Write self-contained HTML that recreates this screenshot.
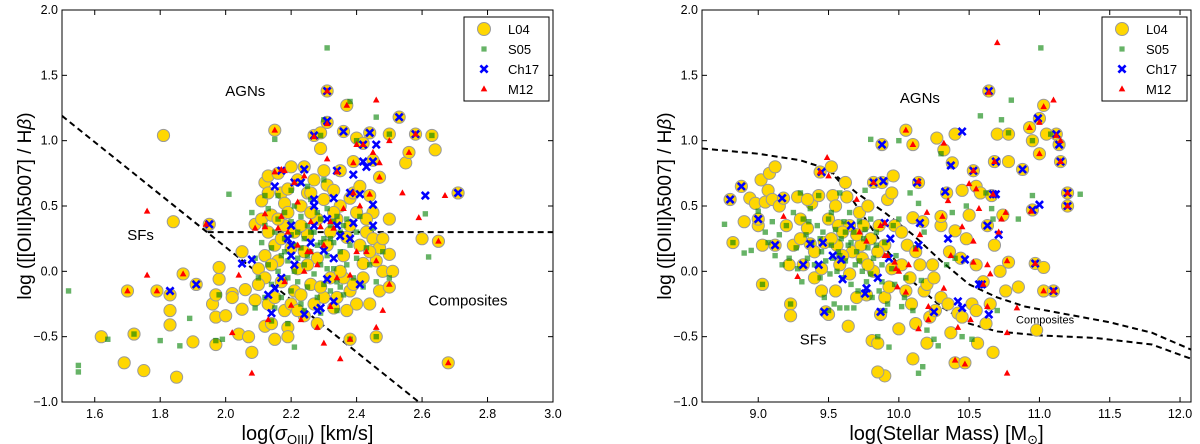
<!DOCTYPE html>
<html><head><meta charset="utf-8">
<style>
body{margin:0;background:#fff;}
svg{display:block;font-family:"Liberation Sans","DejaVu Sans",sans-serif;}
</style></head>
<body>
<svg id="chart" width="1200" height="444" viewBox="0 0 1200 444"></svg>
<script>
// ---- Left panel data: x = log(sigma_OIII), y = log([OIII]/Hb)
const leftL04 = [[1.81,1.04],[1.84,0.38],[1.62,-0.50],[1.69,-0.70],[1.75,-0.76],[1.85,-0.81],[1.72,-0.48],[1.70,-0.15],[1.79,-0.15],[1.83,-0.18],[1.83,-0.30],[1.83,-0.41],[1.87,-0.02],[1.90,-0.54],[1.91,-0.10],[1.95,0.36],[1.97,-0.56],[1.97,-0.35],[1.98,-0.06],[1.98,0.03],[1.96,-0.25],[1.97,-0.18],[2.00,-0.34],[2.02,-0.17],[2.02,-0.20],[2.04,-0.48],[2.05,0.15],[2.05,-0.29],[2.06,-0.14],[2.07,-0.50],[2.08,-0.62],[2.09,0.36],[2.10,0.02],[2.09,-0.22],[2.11,0.54],[2.11,0.40],[2.12,0.68],[2.12,0.12],[2.12,-0.05],[2.12,-0.42],[2.13,0.73],[2.13,0.60],[2.13,0.30],[2.14,0.43],[2.13,-0.25],[2.14,-0.40],[2.15,-0.52],[2.15,1.08],[2.15,0.20],[2.16,0.75],[2.16,0.08],[2.17,-0.08],[2.17,0.60],[2.18,0.52],[2.18,0.35],[2.18,-0.30],[2.19,0.63],[2.19,-0.43],[2.19,-0.50],[2.20,0.80],[2.20,0.18],[2.21,-0.15],[2.22,0.70],[2.22,0.02],[2.23,0.50],[2.23,-0.18],[2.24,0.80],[2.24,-0.34],[2.25,0.60],[2.25,0.28],[2.26,-0.10],[2.27,1.04],[2.28,0.40],[2.28,-0.40],[2.29,0.94],[2.29,1.06],[2.30,0.77],[2.30,-0.20],[2.31,1.38],[2.31,1.14],[2.31,0.66],[2.32,0.30],[2.32,-0.05],[2.33,0.62],[2.33,-0.28],[2.34,0.40],[2.34,-0.20],[2.35,0.77],[2.36,1.07],[2.36,0.12],[2.37,1.27],[2.37,0.26],[2.38,-0.52],[2.38,0.56],[2.38,-0.15],[2.39,0.84],[2.39,0.60],[2.39,-0.10],[2.40,1.02],[2.40,0.45],[2.40,-0.25],[2.41,0.20],[2.42,0.98],[2.42,0.06],[2.43,0.30],[2.44,0.58],[2.44,1.06],[2.44,-0.25],[2.45,0.85],[2.45,0.45],[2.45,0.25],[2.46,0.08],[2.46,-0.50],[2.47,0.72],[2.47,0.18],[2.47,-0.15],[2.48,0.00],[2.50,1.05],[2.50,0.40],[2.50,0.13],[2.50,-0.12],[2.51,0.00],[2.53,1.18],[2.55,0.83],[2.56,0.91],[2.58,1.05],[2.60,0.25],[2.63,1.04],[2.64,0.93],[2.65,0.23],[2.68,-0.70],[2.71,0.60],[2.24,0.15],[2.26,0.45],[2.21,0.30],[2.15,-0.20],[2.28,0.10],[2.36,-0.05],[2.42,-0.05],[2.20,-0.25],[2.10,-0.10],[2.27,0.70],[2.35,0.50],[2.14,0.05],[2.17,0.25],[2.19,0.45],[2.23,0.35],[2.25,0.05],[2.27,-0.25],[2.30,0.55],[2.31,0.20],[2.33,0.45],[2.35,0.00],[2.37,-0.30],[2.41,0.65],[2.43,0.40],[2.44,0.15],[2.48,0.25],[2.22,-0.30],[2.26,0.60],[2.16,0.40],[2.38,0.35],[2.29,-0.12]];
const leftS05 = [[1.52,-0.15],[1.55,-0.72],[1.55,-0.77],[1.64,-0.52],[1.72,-0.48],[1.80,-0.53],[1.86,-0.57],[1.89,-0.36],[1.97,-0.53],[1.99,-0.52],[1.98,-0.18],[2.01,0.59],[2.31,1.71],[2.15,1.01],[2.38,1.30],[2.46,1.18],[2.30,1.16],[2.61,0.44],[2.62,0.11],[2.21,-0.58],[2.63,1.04],[2.50,1.05],[2.46,-0.50],[2.38,-0.52],[2.29,1.04],[2.40,1.00],[2.08,0.45],[2.09,0.10],[2.10,-0.05],[2.11,0.22],[2.12,0.35],[2.12,-0.20],[2.13,0.05],[2.13,0.48],[2.14,-0.10],[2.14,0.18],[2.15,0.30],[2.15,-0.28],[2.16,0.40],[2.16,0.00],[2.17,0.12],[2.17,-0.20],[2.18,0.25],[2.18,0.45],[2.19,-0.05],[2.19,0.08],[2.20,0.38],[2.20,-0.15],[2.21,0.20],[2.21,0.50],[2.22,-0.08],[2.22,0.30],[2.22,0.10],[2.23,0.42],[2.23,-0.25],[2.24,0.05],[2.24,0.25],[2.25,0.35],[2.25,-0.12],[2.26,0.15],[2.26,0.55],[2.27,-0.02],[2.27,0.30],[2.28,0.20],[2.28,-0.20],[2.29,0.40],[2.29,0.05],[2.30,0.25],[2.30,-0.10],[2.31,0.48],[2.31,0.12],[2.32,-0.15],[2.32,0.35],[2.33,0.02],[2.33,0.22],[2.34,0.42],[2.34,-0.08],[2.35,0.15],[2.35,0.30],[2.36,-0.18],[2.37,0.05],[2.37,0.40],[2.38,0.20],[2.39,-0.05],[2.40,0.30],[2.40,0.10],[2.41,0.42],[2.42,-0.12],[2.43,0.18],[2.44,0.05],[2.45,0.33],[2.46,-0.08],[2.48,0.15],[2.50,-0.05],[2.16,0.58],[2.20,0.62],[2.25,0.65],[2.30,0.70],[2.14,-0.38],[2.19,-0.40],[2.24,-0.30],[2.29,-0.32],[2.34,-0.30],[2.09,-0.28],[2.12,0.58],[2.21,0.00],[2.23,0.18],[2.26,0.30],[2.28,0.45],[2.31,0.02],[2.32,0.25],[2.35,-0.12],[2.36,0.35],[2.18,0.15],[2.20,0.28],[2.25,0.12],[2.29,0.22],[2.33,0.38]];
const leftCh17 = [[1.83,-0.15],[1.91,-0.10],[1.95,0.36],[2.05,0.06],[2.08,0.09],[2.13,-0.18],[2.14,-0.32],[2.15,-0.13],[2.17,-0.05],[2.15,0.65],[2.17,0.77],[2.19,0.25],[2.20,0.35],[2.20,0.12],[2.20,0.20],[2.21,0.05],[2.21,0.68],[2.23,0.68],[2.24,0.78],[2.24,-0.33],[2.26,0.22],[2.27,0.55],[2.27,0.50],[2.27,0.35],[2.27,1.04],[2.28,-0.30],[2.29,-0.28],[2.30,0.16],[2.31,1.15],[2.31,0.40],[2.31,-0.06],[2.33,0.56],[2.33,0.10],[2.33,-0.23],[2.34,0.77],[2.35,0.27],[2.36,1.07],[2.38,0.25],[2.38,0.60],[2.39,0.74],[2.39,0.37],[2.41,0.59],[2.41,-0.10],[2.42,0.84],[2.42,0.97],[2.43,0.80],[2.44,1.06],[2.45,0.84],[2.45,0.35],[2.45,0.51],[2.46,0.97],[2.53,1.18],[2.58,1.05],[2.61,0.58],[2.71,0.60],[2.31,1.38],[2.34,0.35]];
const leftM12 = [[1.70,-0.15],[1.76,0.46],[1.76,-0.03],[1.79,-0.15],[1.87,-0.02],[1.94,0.36],[2.02,-0.47],[2.04,-0.03],[2.08,-0.78],[2.09,0.33],[2.12,0.44],[2.12,0.34],[2.13,-0.37],[2.15,1.08],[2.15,0.76],[2.16,0.33],[2.17,0.78],[2.17,0.42],[2.18,-0.08],[2.19,0.30],[2.20,-0.26],[2.21,0.68],[2.22,0.53],[2.22,0.20],[2.23,-0.37],[2.24,0.73],[2.24,0.00],[2.25,0.15],[2.26,0.38],[2.27,1.03],[2.28,-0.43],[2.28,0.05],[2.29,0.34],[2.30,0.20],[2.30,-0.55],[2.31,1.38],[2.31,1.13],[2.31,0.86],[2.32,0.38],[2.32,-0.27],[2.33,0.33],[2.34,0.76],[2.34,-0.05],[2.35,-0.67],[2.36,0.48],[2.37,1.27],[2.38,-0.52],[2.38,-0.03],[2.39,0.60],[2.39,0.83],[2.40,0.97],[2.40,0.15],[2.41,0.50],[2.42,0.97],[2.43,0.15],[2.44,0.59],[2.45,0.91],[2.46,1.31],[2.46,-0.43],[2.46,0.08],[2.47,0.72],[2.47,0.83],[2.48,-0.30],[2.50,1.00],[2.50,-0.10],[2.54,0.60],[2.56,0.91],[2.58,1.05],[2.59,0.41],[2.65,0.23],[2.67,0.58],[2.68,-0.70],[2.74,1.75],[2.18,0.77],[2.26,0.15]];
const leftXTicks = ["1.6","1.8","2.0","2.2","2.4","2.6","2.8","3.0"];
const yTicks = ["−1.0","−0.5","0.0","0.5","1.0","1.5","2.0"];
const yTickVals = [-1.0,-0.5,0.0,0.5,1.0,1.5,2.0];
const leftDiagLine = [[1.5,1.19],[2.59,-1.0]];
const leftHorizLine = [[1.945,0.3],[3.0,0.3]];

// ---- Right panel data: x = log(stellar mass)
const rightL04 = [[8.80,0.55],[8.82,0.22],[8.88,0.65],[8.90,0.38],[8.94,0.56],[8.98,0.52],[9.00,0.35],[9.00,0.40],[9.02,0.70],[9.03,-0.10],[9.03,0.20],[9.05,0.53],[9.07,0.62],[9.08,0.75],[9.10,0.55],[9.12,0.80],[9.12,0.20],[9.15,0.50],[9.18,0.56],[9.20,0.35],[9.22,0.05],[9.23,-0.25],[9.23,-0.34],[9.25,0.20],[9.28,0.57],[9.30,0.40],[9.32,0.05],[9.35,0.33],[9.37,0.21],[9.38,0.52],[9.40,-0.05],[9.43,0.58],[9.44,0.76],[9.45,-0.15],[9.47,0.22],[9.48,-0.31],[9.50,0.40],[9.50,-0.33],[9.52,0.80],[9.53,0.58],[9.55,-0.15],[9.56,0.20],[9.57,0.35],[9.58,0.05],[9.62,0.68],[9.63,0.57],[9.64,-0.42],[9.65,0.35],[9.67,0.15],[9.70,-0.20],[9.72,0.45],[9.74,0.10],[9.75,0.35],[9.77,-0.18],[9.78,0.50],[9.80,0.25],[9.81,-0.53],[9.82,0.68],[9.82,0.00],[9.85,-0.55],[9.86,0.35],[9.87,-0.33],[9.88,0.97],[9.88,0.68],[9.90,0.20],[9.90,-0.20],[9.92,0.55],[9.95,0.60],[9.96,0.73],[9.97,0.35],[10.00,-0.44],[9.90,-0.80],[10.02,0.05],[10.02,0.30],[10.05,1.08],[10.06,0.20],[10.09,-0.25],[10.10,0.41],[10.10,0.97],[10.12,-0.40],[10.14,0.68],[10.15,0.05],[10.17,0.38],[10.18,-0.15],[10.20,-0.55],[10.22,-0.35],[10.24,0.05],[10.27,1.02],[10.30,0.35],[10.30,0.42],[10.30,-0.20],[10.32,0.93],[10.34,0.60],[10.36,0.15],[10.37,-0.47],[10.38,0.83],[10.40,1.05],[10.40,0.31],[10.42,-0.32],[10.44,0.10],[10.45,0.62],[10.40,-0.70],[10.47,-0.70],[10.48,0.25],[10.50,0.43],[10.52,-0.25],[10.53,0.77],[10.55,0.05],[10.55,0.65],[10.56,-0.55],[10.58,0.60],[10.60,-0.08],[10.62,-0.40],[10.63,0.35],[10.64,1.38],[10.66,0.58],[10.67,-0.62],[10.68,0.20],[10.68,0.84],[10.70,1.05],[10.72,0.00],[10.74,0.43],[10.76,-0.15],[10.78,1.05],[10.78,0.84],[10.78,0.07],[10.85,-0.12],[10.88,0.78],[10.93,1.10],[10.95,1.00],[10.95,0.47],[10.97,0.06],[11.00,0.90],[11.00,1.17],[11.03,1.27],[11.03,-0.15],[11.05,1.05],[11.10,-0.15],[11.12,1.05],[11.14,0.97],[11.15,0.84],[11.20,0.60],[11.20,0.50],[11.03,0.03],[10.98,-0.45],[9.65,-0.02],[9.45,0.02],[9.60,0.30],[9.73,0.20],[10.20,-0.10],[10.08,-0.05],[10.26,-0.30],[9.93,-0.12],[9.55,0.50],[9.35,0.55],[9.85,-0.77],[10.10,-0.67],[9.60,0.12],[9.70,0.28],[9.78,0.05],[9.85,0.15],[9.95,0.02],[10.05,-0.15],[10.12,0.15],[10.25,-0.05],[10.35,-0.25],[10.45,-0.35],[10.55,-0.30],[10.65,-0.25],[9.40,0.15],[9.30,0.25],[9.52,0.25]];
const rightS05 = [[8.76,0.36],[8.82,0.22],[8.90,0.14],[8.95,0.16],[9.00,0.46],[9.03,-0.10],[9.05,0.30],[9.07,0.22],[9.10,0.38],[9.12,0.12],[9.15,0.28],[9.17,0.05],[9.20,0.35],[9.22,0.10],[9.23,-0.25],[9.25,0.45],[9.27,0.18],[9.28,0.02],[9.30,0.60],[9.31,-0.08],[9.32,0.40],[9.34,0.28],[9.35,0.10],[9.37,0.48],[9.38,0.22],[9.40,0.05],[9.42,0.35],[9.43,0.58],[9.44,-0.05],[9.45,0.15],[9.46,0.30],[9.47,-0.20],[9.48,0.08],[9.50,0.40],[9.51,-0.02],[9.52,0.20],[9.53,0.10],[9.54,-0.25],[9.55,0.32],[9.56,0.00],[9.57,0.15],[9.58,0.60],[9.59,0.25],[9.60,-0.05],[9.61,0.38],[9.62,0.08],[9.63,-0.28],[9.64,0.20],[9.65,0.45],[9.66,-0.10],[9.68,0.30],[9.69,0.05],[9.70,0.15],[9.71,-0.15],[9.72,0.38],[9.74,0.00],[9.75,0.25],[9.76,0.62],[9.77,-0.08],[9.78,0.18],[9.80,0.40],[9.80,1.01],[9.81,-0.20],[9.82,0.10],[9.84,0.30],[9.85,-0.50],[9.86,-0.15],[9.88,0.05],[9.90,0.22],[9.92,-0.25],[9.93,-0.58],[9.95,0.02],[9.97,-0.10],[9.98,0.12],[10.00,1.00],[10.02,-0.27],[10.05,-0.05],[10.08,0.60],[10.10,-0.30],[10.12,0.18],[10.14,0.52],[10.16,-0.07],[10.18,0.30],[10.20,-0.45],[10.17,-0.73],[10.14,-0.78],[10.25,-0.52],[10.28,-0.57],[10.30,0.90],[10.34,0.05],[10.38,0.45],[10.40,0.10],[10.45,-0.50],[10.48,0.50],[10.52,-0.52],[10.58,1.19],[10.62,0.60],[10.66,0.48],[10.67,0.40],[10.70,-0.30],[10.73,1.16],[10.78,1.06],[10.80,1.31],[10.85,0.40],[10.95,0.58],[10.95,1.00],[11.01,1.71],[11.08,1.05],[11.29,0.59],[9.50,-0.30],[9.58,-0.28],[9.68,-0.28],[10.00,0.40],[10.04,-0.20],[9.96,0.35],[9.90,-0.30],[9.36,0.38],[9.44,0.25],[9.52,0.45],[9.58,0.12],[9.62,0.30],[9.66,0.22],[9.72,0.08],[9.76,0.32],[9.80,-0.02],[9.84,0.20],[9.88,-0.08],[9.92,0.12]];
const rightCh17 = [[8.80,0.55],[8.88,0.65],[9.00,0.40],[9.12,0.20],[9.17,0.56],[9.32,0.05],[9.37,0.21],[9.43,0.05],[9.45,0.76],[9.46,0.22],[9.47,-0.31],[9.53,0.12],[9.59,0.09],[9.60,-0.06],[9.66,0.35],[9.77,-0.13],[9.76,-0.17],[9.82,0.68],[9.85,-0.05],[9.87,-0.31],[9.88,0.97],[9.89,0.69],[9.90,0.37],[9.94,0.25],[9.93,0.10],[10.13,0.68],[10.14,0.20],[10.15,0.37],[10.25,-0.31],[10.33,0.61],[10.35,0.25],[10.37,0.81],[10.42,-0.23],[10.45,-0.28],[10.45,1.07],[10.47,0.09],[10.53,0.77],[10.57,-0.10],[10.59,-0.10],[10.63,0.35],[10.64,-0.33],[10.64,1.38],[10.67,0.59],[10.69,0.59],[10.69,0.84],[10.71,0.28],[10.88,0.78],[10.95,0.47],[10.97,0.06],[10.99,1.17],[11.00,0.51],[11.10,-0.15],[11.12,1.05],[11.14,0.97],[11.15,0.84],[11.20,0.60],[11.20,0.50]];
const rightM12 = [[9.18,0.42],[9.28,-0.04],[9.44,0.76],[9.49,0.87],[9.50,0.73],[9.70,0.55],[9.72,0.30],[9.77,0.23],[9.82,0.68],[9.87,0.35],[9.90,0.37],[9.90,0.12],[9.92,0.12],[9.97,0.07],[9.98,0.02],[9.99,-0.12],[10.00,0.00],[10.05,1.08],[10.10,0.97],[10.12,0.17],[10.14,0.69],[10.14,-0.44],[10.15,0.28],[10.20,0.45],[10.21,-0.27],[10.21,-0.37],[10.31,0.42],[10.32,0.98],[10.32,-0.13],[10.35,0.54],[10.37,0.12],[10.40,-0.68],[10.42,-0.43],[10.45,0.34],[10.47,-0.71],[10.50,0.67],[10.51,-0.37],[10.53,0.07],[10.53,0.23],[10.53,0.77],[10.55,0.63],[10.57,0.48],[10.60,-0.10],[10.63,0.05],[10.63,-0.27],[10.64,1.37],[10.65,-0.02],[10.67,0.59],[10.68,0.84],[10.70,1.75],[10.71,0.30],[10.73,0.40],[10.76,0.45],[10.77,-0.78],[10.77,0.08],[10.77,-0.47],[10.84,-0.28],[10.93,1.10],[10.94,0.46],[10.97,0.06],[11.00,0.90],[11.00,1.14],[11.03,1.26],[11.03,-0.15],[11.10,-0.15],[11.10,1.31],[11.12,1.04],[11.15,1.00],[11.15,0.84],[11.20,0.60],[11.20,0.50],[10.07,0.05],[10.05,-0.16]];
const rightXTicks = ["9.0","9.5","10.0","10.5","11.0","11.5","12.0"];
const rightUpperCurve = [[8.6,0.94],[9.0,0.90],[9.3,0.85],[9.5,0.78],[9.7,0.60],[9.9,0.45],[10.1,0.28],[10.3,0.08],[10.5,-0.10],[10.7,-0.20],[10.9,-0.27],[11.2,-0.33],[11.5,-0.39],[11.8,-0.47],[12.08,-0.60]];
const rightLowerCurve = [[9.5,0.78],[9.6,0.66],[9.75,0.42],[9.9,0.18],[10.1,-0.08],[10.3,-0.27],[10.5,-0.40],[10.7,-0.46],[11.0,-0.49],[11.4,-0.51],[11.8,-0.56],[12.08,-0.67]];

const NS = "http://www.w3.org/2000/svg";
const svg = document.getElementById("chart");
function mk(tag, attrs, parent){ const e=document.createElementNS(NS,tag); for(const k in attrs) e.setAttribute(k,attrs[k]); (parent||svg).appendChild(e); return e; }

function panel(cfg){
  const g = mk("g",{});
  
  
  const X = v => cfg.x0 + (v - cfg.xmin) / (cfg.xmax - cfg.xmin) * (cfg.x1 - cfg.x0);
  const Y = v => 402 - (v + 1) / 3 * (402 - 10);
  const clip = cfg.name + "-clip";
  const cp = mk("clipPath",{id:clip},g); mk("rect",{x:cfg.x0,y:10,width:cfg.x1-cfg.x0,height:392},cp);
  const plot = mk("g",{"clip-path":"url(#"+clip+")"},g);
  cfg.lines.forEach((ln,i)=>{
    const p = mk("polyline",{points:ln.map(d=>X(d[0])+","+Y(d[1])).join(" "),fill:"none",stroke:"#000","stroke-width":2,"stroke-dasharray":"6,4"},plot);
    
    
  });
  cfg.L04.forEach(d=>{ const c=mk("circle",{cx:X(d[0]),cy:Y(d[1]),r:6.1,fill:"#FFD700",stroke:"#9a9a9a","stroke-width":1},plot);
    
     });
  cfg.S05.forEach(d=>{ const s=mk("rect",{x:X(d[0])-2.7,y:Y(d[1])-2.7,width:5.4,height:5.4,fill:"#008000","fill-opacity":0.6},plot);
    
     });
  cfg.Ch17.forEach(d=>{ const x=X(d[0]),y=Y(d[1]),r=3.6;
    const p=mk("path",{d:`M${x-r},${y-r}L${x+r},${y+r}M${x-r},${y+r}L${x+r},${y-r}`,stroke:"#0000ff","stroke-width":2.6,fill:"none"},plot);
    
     });
  cfg.M12.forEach(d=>{ const x=X(d[0]),y=Y(d[1]);
    const p=mk("path",{d:`M${x},${y-3.6}L${x+3.3},${y+2.4}L${x-3.3},${y+2.4}Z`,fill:"#ff0000"},plot);
    
     });
  const fr = mk("rect",{x:cfg.x0,y:10,width:cfg.x1-cfg.x0,height:392,fill:"none",stroke:"#000","stroke-width":1},g);
  
  
  cfg.xticks.forEach(t=>{ const v=parseFloat(t), x=X(v);
    mk("line",{x1:x,y1:402,x2:x,y2:397,stroke:"#000"},g); mk("line",{x1:x,y1:10,x2:x,y2:15,stroke:"#000"},g);
    const tx=mk("text",{x:x,y:418,"text-anchor":"middle","font-size":12.5},g); tx.textContent=t;
    
     });
  yTickVals.forEach((v,i)=>{ const y=Y(v);
    mk("line",{x1:cfg.x0,y1:y,x2:cfg.x0+5,y2:y,stroke:"#000"},g); mk("line",{x1:cfg.x1,y1:y,x2:cfg.x1-5,y2:y,stroke:"#000"},g);
    const tx=mk("text",{x:cfg.x0-4,y:y+4,"text-anchor":"end","font-size":12.5},g); tx.textContent=yTicks[i];
    
     });
  cfg.labels.forEach(l=>{ const tx=mk("text",{x:X(l[1]),y:Y(l[2]),"text-anchor":"middle","font-size":l[3]},g); tx.textContent=l[0];
    
     });
  const xt=mk("text",{x:(cfg.x0+cfg.x1)/2,y:440,"text-anchor":"middle","font-size":20},g);
  xt.innerHTML=cfg.xtitle;
  
  
  const yt=mk("text",{x:0,y:0,"text-anchor":"middle","font-size":19,transform:`translate(${cfg.x0-31},206) rotate(-90)`},g);
  yt.innerHTML='log ([[OIII]λ5007] / H<tspan font-style="italic">β</tspan>)';
  
  
  const lx=cfg.x1-89, lg=mk("g",{},g);
  
  
  mk("rect",{x:lx,y:17,width:85,height:84,fill:"#fff",stroke:"#000","stroke-width":1},lg);
  const names=["L04","S05","Ch17","M12"];
  names.forEach((n,i)=>{ const cy=29+i*20, mx=lx+20;
    if(i==0) mk("circle",{cx:mx,cy:cy,r:6.5,fill:"#FFD700",stroke:"#9a9a9a"},lg);
    if(i==1) mk("rect",{x:mx-2.6,y:cy-2.6,width:5.2,height:5.2,fill:"#008000","fill-opacity":0.6},lg);
    if(i==2) mk("path",{d:`M${mx-3.6},${cy-3.6}L${mx+3.6},${cy+3.6}M${mx-3.6},${cy+3.6}L${mx+3.6},${cy-3.6}`,stroke:"#0000ff","stroke-width":2.6},lg);
    if(i==3) mk("path",{d:`M${mx},${cy-3.6}L${mx+3.3},${cy+2.4}L${mx-3.3},${cy+2.4}Z`,fill:"#ff0000"},lg);
    const t=mk("text",{x:lx+44,y:cy+5,"font-size":13},lg); t.textContent=n;
    
    
  });
}

panel({name:"left-panel",x0:62,x1:553,xmin:1.5,xmax:3.0,xticks:leftXTicks,
  L04:leftL04,S05:leftS05,Ch17:leftCh17,M12:leftM12,lines:[leftDiagLine,leftHorizLine],
  labels:[["AGNs",2.06,1.34,15],["SFs",1.74,0.24,15],["Composites",2.74,-0.26,15]],
  xtitle:'log(<tspan font-style="italic">σ</tspan><tspan font-size="13" dy="4">OIII</tspan><tspan dy="-4">) [km/s]</tspan>'});
panel({name:"right-panel",x0:702,x1:1191,xmin:8.6,xmax:12.078,xticks:rightXTicks,
  L04:rightL04,S05:rightS05,Ch17:rightCh17,M12:rightM12,lines:[rightUpperCurve,rightLowerCurve],
  labels:[["AGNs",10.15,1.29,15],["SFs",9.39,-0.56,15],["Composites",11.04,-0.40,11]],
  xtitle:'log(Stellar Mass) [M<tspan font-size="13" dy="4">⊙</tspan><tspan dy="-4">]</tspan>'});
</script>
</body></html>
